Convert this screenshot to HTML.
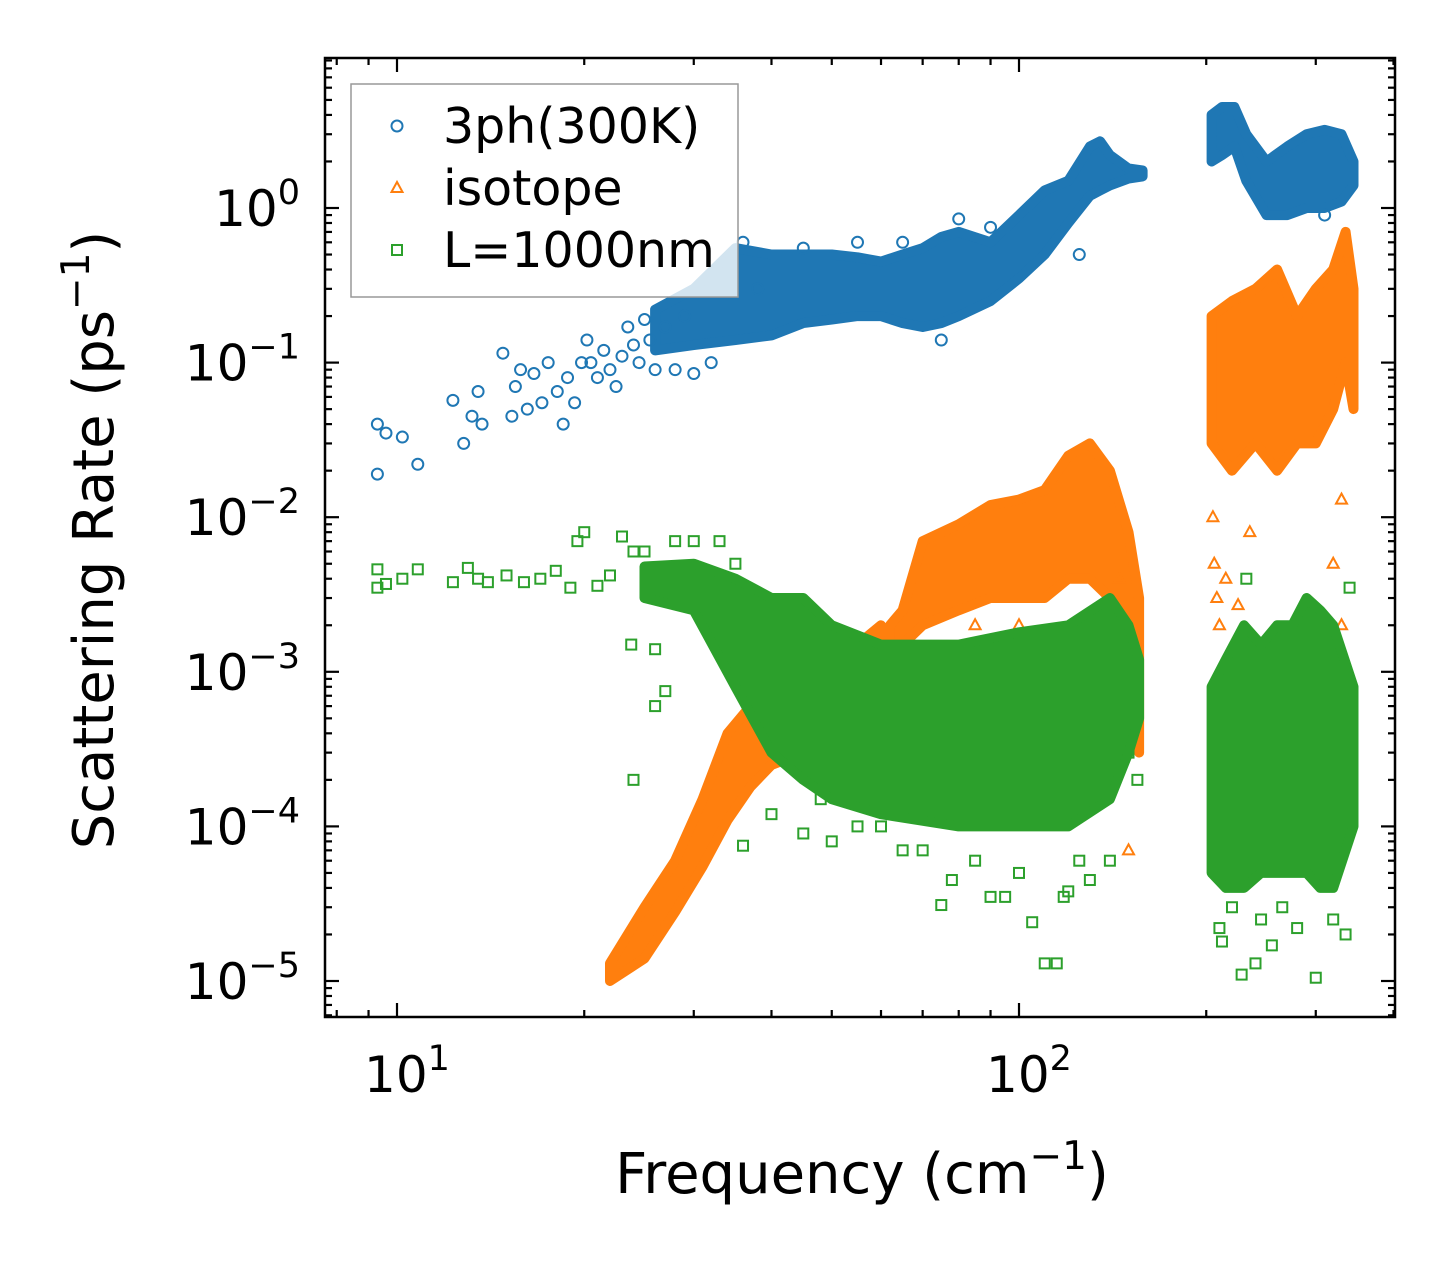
<!DOCTYPE html>
<html><head><meta charset="utf-8"><style>
html,body{margin:0;padding:0;background:#fff}
svg{display:block;font-family:"DejaVu Sans","Liberation Sans",sans-serif}
</style></head><body>
<svg id="chart" width="1455" height="1265" viewBox="0 0 1455 1265" xmlns="http://www.w3.org/2000/svg">
<g id="plot"></g>
<g id="axes"></g>
</svg>
<script>
// ---- data ----
const xTicks = [10, 100];
const xTickExp = ["1", "2"];
const yTicks = [1, 0.1, 0.01, 0.001, 0.0001, 0.00001];
const yTickExp = ["0", "\u22121", "\u22122", "\u22123", "\u22124", "\u22125"];

// dense-region envelopes: frequency, lower, upper
const blueBandA_f = [26, 30, 35, 40, 45, 50, 55, 60, 65, 70, 75, 80, 90, 100, 110, 120, 130, 135, 140, 150, 158];
const blueBandA_lo = [0.12, 0.13, 0.14, 0.15, 0.18, 0.19, 0.2, 0.2, 0.18, 0.17, 0.18, 0.2, 0.25, 0.35, 0.5, 0.8, 1.2, 1.3, 1.4, 1.55, 1.6];
const blueBandA_hi = [0.22, 0.3, 0.55, 0.5, 0.5, 0.5, 0.48, 0.45, 0.5, 0.55, 0.65, 0.7, 0.6, 0.9, 1.3, 1.5, 2.5, 2.7, 2.2, 1.8, 1.75];
const blueBandB_f = [204, 212, 222, 232, 250, 270, 290, 310, 330, 345];
const blueBandB_lo = [2.0, 2.2, 2.5, 1.5, 0.9, 0.9, 1.0, 1.0, 1.1, 1.4];
const blueBandB_hi = [4.0, 4.5, 4.5, 3.0, 2.0, 2.5, 3.0, 3.2, 3.0, 2.0];

const orangeBandA_f = [22, 25, 28, 31, 34, 37, 40, 45, 50, 55, 60];
const orangeBandA_lo = [1e-5, 1.4e-5, 2.8e-5, 5.5e-5, 1.1e-4, 1.8e-4, 2.5e-4, 3e-4, 4e-4, 5e-4, 7e-4];
const orangeBandA_hi = [1.3e-5, 3e-5, 6e-5, 1.5e-4, 4e-4, 6e-4, 7e-4, 9e-4, 1.2e-3, 1.5e-3, 2e-3];
const orangeBandB_f = [62, 65, 70, 80, 90, 100, 110, 120, 130, 140, 150, 156];
const orangeBandB_lo = [1.3e-3, 1.5e-3, 2e-3, 2.5e-3, 3e-3, 3e-3, 3e-3, 4e-3, 4e-3, 3e-3, 1e-3, 3e-4];
const orangeBandB_hi = [2e-3, 2.5e-3, 7e-3, 9e-3, 1.2e-2, 1.3e-2, 1.5e-2, 2.5e-2, 3e-2, 2e-2, 8e-3, 3e-3];
const orangeBandC_f = [204, 220, 240, 260, 280, 300, 320, 335, 345];
const orangeBandC_lo = [0.03, 0.02, 0.03, 0.02, 0.03, 0.03, 0.05, 0.1, 0.05];
const orangeBandC_hi = [0.2, 0.25, 0.3, 0.4, 0.2, 0.3, 0.4, 0.7, 0.3];

const greenBandA_f = [25, 30, 35, 40, 45, 50, 60, 80, 100, 120, 140, 150, 156];
const greenBandA_lo = [3e-3, 2.5e-3, 8e-4, 3e-4, 2e-4, 1.5e-4, 1.2e-4, 1e-4, 1e-4, 1e-4, 1.5e-4, 3e-4, 5e-4];
const greenBandA_hi = [4.8e-3, 5e-3, 4e-3, 3e-3, 3e-3, 2e-3, 1.5e-3, 1.5e-3, 1.8e-3, 2e-3, 3e-3, 2e-3, 1.2e-3];
const greenBandB_f = [204, 215, 230, 245, 260, 275, 290, 305, 320, 345];
const greenBandB_lo = [5e-5, 4e-5, 4e-5, 5e-5, 5e-5, 5e-5, 5e-5, 4e-5, 4e-5, 1e-4];
const greenBandB_hi = [8e-4, 1.2e-3, 2e-3, 1.5e-3, 2e-3, 2e-3, 3e-3, 2.5e-3, 2e-3, 8e-4];

// sparse points
const bluePts_f = [9.3,9.3,9.6,10.2,10.8,12.3,12.8,13.2,13.5,13.7,14.8,15.3,15.5,15.8,16.2,16.6,17.1,17.5,18.1,18.5,18.8,19.3,19.8,20.2,20.5,21,21.5,22,22.5,23,23.5,24,24.5,25,25.5,26,27,28,29,30,32,34,36,38,45,55,65,75,80,90,125,310];
const bluePts_r = [0.04,0.019,0.035,0.033,0.022,0.057,0.03,0.045,0.065,0.04,0.115,0.045,0.07,0.09,0.05,0.085,0.055,0.1,0.065,0.04,0.08,0.055,0.1,0.14,0.1,0.08,0.12,0.09,0.07,0.11,0.17,0.13,0.1,0.19,0.14,0.09,0.17,0.09,0.2,0.085,0.1,0.45,0.6,0.3,0.55,0.6,0.6,0.14,0.85,0.75,0.5,0.9];
const orangePts_f = [205,206,208,210,215,225,235,320,330,330,150,148,145,130,100,85];
const orangePts_r = [0.01,0.005,0.003,0.002,0.004,0.0027,0.008,0.005,0.002,0.013,7e-5,1e-3,4e-3,2e-3,2e-3,2e-3];
const greenPts_f = [9.3,9.3,9.6,10.2,10.8,12.3,13,13.5,14,15,16,17,18,19,19.5,20,21,22,23,24,25,26,27,28,30,33,35,24,26,23.8,36,40,45,48,50,55,60,65,70,75,78,85,90,95,100,105,110,115,118,120,125,130,140,150,155,210,212,220,228,232,240,245,255,265,280,300,320,335,340];
const greenPts_r = [4.6e-3,3.5e-3,3.7e-3,4e-3,4.6e-3,3.8e-3,4.7e-3,4e-3,3.8e-3,4.2e-3,3.8e-3,4e-3,4.5e-3,3.5e-3,7e-3,8e-3,3.6e-3,4.2e-3,7.5e-3,6e-3,6e-3,1.4e-3,7.5e-4,7e-3,7e-3,7e-3,5e-3,2e-4,6e-4,1.5e-3,7.5e-5,1.2e-4,9e-5,1.5e-4,8e-5,1e-4,1e-4,7e-5,7e-5,3.1e-5,4.5e-5,6e-5,3.5e-5,3.5e-5,5e-5,2.4e-5,1.3e-5,1.3e-5,3.5e-5,3.8e-5,6e-5,4.5e-5,6e-5,3e-4,2e-4,2.2e-5,1.8e-5,3e-5,1.1e-5,4e-3,1.3e-5,2.5e-5,1.7e-5,3e-5,2.2e-5,1.05e-5,2.5e-5,2e-5,3.5e-3];

// ---- scales ----
const L = 325, R = 1395, T = 58, B = 1017;
const x0 = 397, xDec = 622, y0 = 208, yDec = 154.6;
const X = f => x0 + (Math.log10(f) - 1) * xDec;
const Y = r => y0 - Math.log10(r) * yDec;
const NS = "http://www.w3.org/2000/svg";
const plot = document.getElementById('plot');
const axes = document.getElementById('axes');
function mk(tag, attrs, parent) {
  const e = document.createElementNS(NS, tag);
  for (const k in attrs) e.setAttribute(k, attrs[k]);
  parent.appendChild(e);
  return e;
}
const C = {blue: "#1f77b4", orange: "#ff7f0e", green: "#2ca02c"};

const clip = mk('clipPath', {id: 'clipArea'}, plot);
mk('rect', {x: L, y: T, width: R - L, height: B - T}, clip);
const layer = mk('g', {'clip-path': 'url(#clipArea)'}, plot);

function band(f, lo, hi, color, name) {
  let pts = [];
  for (let i = 0; i < f.length; i++) pts.push(X(f[i]).toFixed(1) + ',' + Y(hi[i]).toFixed(1));
  for (let i = f.length - 1; i >= 0; i--) pts.push(X(f[i]).toFixed(1) + ',' + Y(lo[i]).toFixed(1));
  const p = mk('polygon', {points: pts.join(' '), fill: color, stroke: color, 'stroke-width': 10, 'stroke-linejoin': 'round'}, layer);
  
  
}
function marker(kind, cx, cy, color, parent) {
  let e;
  if (kind === 'o') e = mk('circle', {cx: cx, cy: cy, r: 5.5, fill: 'none', stroke: color, 'stroke-width': 2}, parent);
  else if (kind === '^') e = mk('polygon', {points: `${cx},${cy-6} ${cx-5.5},${cy+4} ${cx+5.5},${cy+4}`, fill: 'none', stroke: color, 'stroke-width': 2}, parent);
  else e = mk('rect', {x: cx - 5, y: cy - 5, width: 10, height: 10, fill: 'none', stroke: color, 'stroke-width': 2}, parent);
  return e;
}
function points(f, r, kind, color, name) {
  for (let i = 0; i < f.length; i++) {
    const e = marker(kind, X(f[i]), Y(r[i]), color, layer);
    
    
  }
}
band(blueBandA_f, blueBandA_lo, blueBandA_hi, C.blue, '3ph-band-low-freq');
band(blueBandB_f, blueBandB_lo, blueBandB_hi, C.blue, '3ph-band-high-freq');
points(bluePts_f, bluePts_r, 'o', C.blue, '3ph-point');
band(orangeBandA_f, orangeBandA_lo, orangeBandA_hi, C.orange, 'isotope-band-acoustic');
band(orangeBandB_f, orangeBandB_lo, orangeBandB_hi, C.orange, 'isotope-band-mid');
band(orangeBandC_f, orangeBandC_lo, orangeBandC_hi, C.orange, 'isotope-band-optical');
points(orangePts_f, orangePts_r, '^', C.orange, 'isotope-point');
band(greenBandA_f, greenBandA_lo, greenBandA_hi, C.green, 'boundary-band-low');
band(greenBandB_f, greenBandB_lo, greenBandB_hi, C.green, 'boundary-band-high');
points(greenPts_f, greenPts_r, 's', C.green, 'boundary-point');

// ---- axes frame & ticks ----
const frame = mk('rect', {x: L, y: T, width: R - L, height: B - T, fill: 'none', stroke: '#000', 'stroke-width': 2.5}, axes);


function tick(x1, y1, x2, y2) { mk('line', {x1, y1, x2, y2, stroke: '#000', 'stroke-width': 2.2}, axes); }
for (let d = 0; d <= 2; d++) {
  for (let m = 1; m <= 9; m++) {
    const f = m * Math.pow(10, d);
    const x = X(f);
    if (x < L || x > R) continue;
    const len = m === 1 ? 14 : 7;
    tick(x, B, x, B - len); tick(x, T, x, T + len);
  }
}
for (let d = -6; d <= 0; d++) {
  for (let m = 1; m <= 9; m++) {
    const r = m * Math.pow(10, d);
    const y = Y(r);
    if (y < T || y > B) continue;
    const len = m === 1 ? 14 : 7;
    tick(L, y, L + len, y); tick(R, y, R - len, y);
  }
}
function powLabel(x, y, exp, anchor, name) {
  const t = mk('text', {x: x, y: y, 'font-size': 50, 'text-anchor': anchor, fill: '#000'}, axes);
  
  
  const a = mk('tspan', {}, t); a.textContent = '10';
  const b = mk('tspan', {'font-size': 35, dy: -22}, t); b.textContent = exp;
}
xTicks.forEach((v, i) => powLabel(X(v) + 10, 1092, xTickExp[i], 'middle', 'x-tick-label'));
yTicks.forEach((v, i) => powLabel(300, Y(v) + 18, yTickExp[i], 'end', 'y-tick-label'));

const xt = mk('text', {x: 862, y: 1193, 'font-size': 56, 'text-anchor': 'middle'}, axes);


xt.innerHTML = 'Frequency (cm<tspan font-size="39" dy="-24">\u22121</tspan><tspan dy="24">)</tspan>';
const yt = mk('text', {x: 0, y: 0, 'font-size': 56, 'text-anchor': 'middle', transform: 'translate(113,540) rotate(-90)'}, axes);


yt.innerHTML = 'Scattering Rate (ps<tspan font-size="39" dy="-24">\u22121</tspan><tspan dy="24">)</tspan>';

// ---- legend ----
const leg = mk('g', {}, axes);


mk('rect', {x: 351, y: 84, width: 387, height: 213, fill: 'rgba(255,255,255,0.8)', stroke: '#999', 'stroke-width': 1.5}, leg);
const legLabels = ['3ph(300K)', 'isotope', 'L=1000nm'];
const legKinds = ['o', '^', 's'];
const legColors = [C.blue, C.orange, C.green];
legLabels.forEach((lab, i) => {
  const cy = 126 + i * 62;
  const g = mk('g', {}, leg);
  
  
  marker(legKinds[i], 397, cy, legColors[i], g);
  const t = mk('text', {x: 443, y: cy + 17, 'font-size': 49}, g);
  t.textContent = lab;
});
</script>
</body></html>
